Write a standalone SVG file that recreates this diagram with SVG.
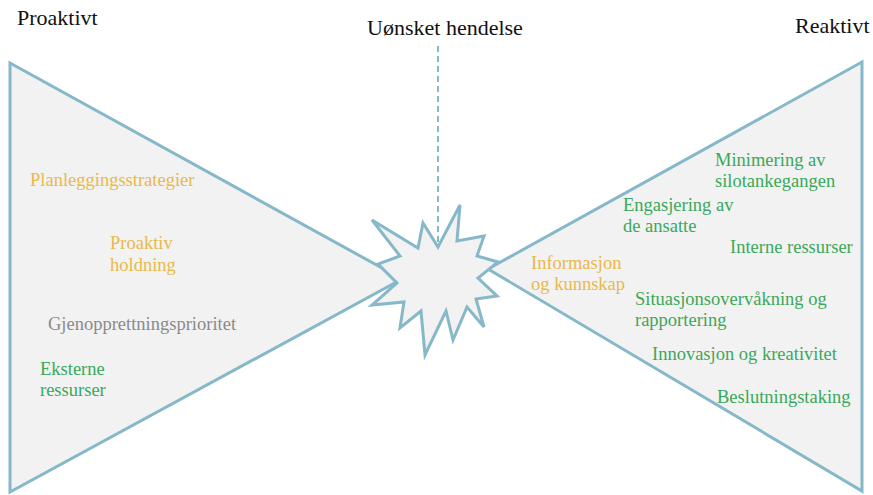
<svg xmlns="http://www.w3.org/2000/svg" width="873" height="495" viewBox="0 0 873 495">
  <style>
    .shape { fill: #f2f2f2; stroke: #86b8c9; stroke-width: 3; stroke-linejoin: miter; }
    .head { font-family: "Liberation Serif", "Times New Roman", serif; font-size: 22px; fill: #111; }
    .lbl { font-family: "Liberation Serif", "Times New Roman", serif; font-size: 18.5px; }
    .amber { fill: #e9b949; }
    .grey { fill: #8a8a8a; }
    .green { fill: #3aa85a; }
  </style>
  <rect width="873" height="495" fill="#ffffff"/>

  <!-- connector: dashed line from the event title down to the burst -->
  <g id="connectors">
    <line x1="438" y1="46" x2="438" y2="246" stroke="#86b8c9" stroke-width="2" stroke-dasharray="6 4"/>
  </g>

  <!-- proactive wedge -->
  <g id="proaktivt">
    <polygon class="shape" points="10,63 10,492 402,279"/>
    <text class="head" x="17" y="25">Proaktivt</text>
    <text class="lbl amber" x="30" y="186">Planleggingsstrategier</text>
    <text class="lbl amber" x="110" y="249">Proaktiv</text>
    <text class="lbl amber" x="110" y="271">holdning</text>
    <text class="lbl grey" x="48" y="330">Gjenopprettningsprioritet</text>
    <text class="lbl green" x="40" y="375">Eksterne</text>
    <text class="lbl green" x="40" y="396">ressurser</text>
  </g>

  <!-- reactive wedge -->
  <g id="reaktivt">
    <polygon class="shape" points="862,62 862,491 488,269"/>
    <text class="head" x="795" y="33">Reaktivt</text>
    <text class="lbl green" x="715" y="166">Minimering av</text>
    <text class="lbl green" x="715" y="187">silotankegangen</text>
    <text class="lbl green" x="623" y="211">Engasjering av</text>
    <text class="lbl green" x="623" y="232">de ansatte</text>
    <text class="lbl green" x="730" y="253">Interne ressurser</text>
    <text class="lbl amber" x="531" y="269">Informasjon</text>
    <text class="lbl amber" x="531" y="290">og kunnskap</text>
    <text class="lbl green" x="635" y="305">Situasjonsovervåkning og</text>
    <text class="lbl green" x="635" y="326">rapportering</text>
    <text class="lbl green" x="652" y="360">Innovasjon og kreativitet</text>
    <text class="lbl green" x="717" y="403">Beslutningstaking</text>
  </g>

  <!-- the unwanted event: burst in the middle -->
  <g id="hendelse">
    <polygon class="shape" points="460,205 457,241 484,236 477,256 498,262 478,278 497,296 476,299 484,327 467,307 453,340 446,311 425,355 421,311 400,328 404,302 372,305 397,283 378,264 400,256 372,220 418,248 423,223 438,247"/>
    <text class="head" x="445" y="35" text-anchor="middle">Uønsket hendelse</text>
  </g>
</svg>
